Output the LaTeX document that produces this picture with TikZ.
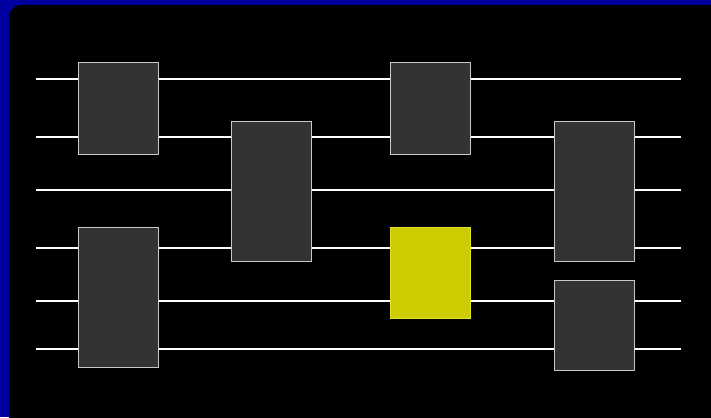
\documentclass[tikz,border=0pt]{standalone}
\definecolor{frameblue}{RGB}{0,0,158}
\definecolor{gatefill}{RGB}{51,51,51}
\definecolor{gateedge}{RGB}{200,200,200}
\definecolor{hifill}{RGB}{204,204,0}
\definecolor{hiedge}{RGB}{225,225,40}
\begin{document}
\begin{tikzpicture}[x=1pt,y=-1pt,
  wire/.style={draw=white,line width=2pt},
  gate/.style={fill=gatefill,draw=gateedge,line width=1pt},
  hgate/.style={fill=hifill,draw=hiedge,line width=1pt}]
\useasboundingbox (0,0) rectangle (711,417);
\fill[frameblue] (0,0) rectangle (711,417);
\begin{scope}
\clip (0,0) rectangle (711,417);
\fill[black,rounded corners=12pt] (9,5) rectangle (730,430);
\end{scope}
% wires
\foreach \i/\y in {0/79,1/137,2/190,3/248,4/301,5/349}{
  \coordinate (w\i s) at (36,\y);
  \coordinate (w\i e) at (681,\y);
  \draw[wire] (w\i s) -- (w\i e);
}
% gates
\filldraw[gate] (78,63) rectangle (158,154) coordinate (gA);
\filldraw[gate] (78,227) rectangle (158,367) coordinate (gB);
\filldraw[gate] (231,121) rectangle (311,261) coordinate (gC);
\filldraw[gate] (390,63) rectangle (470,154) coordinate (gD);
\filldraw[hgate] (390,227) rectangle (470,318) coordinate (gE);
\filldraw[gate] (554,121) rectangle (634,261) coordinate (gF);
\filldraw[gate] (554,280) rectangle (634,370) coordinate (gG);
\end{tikzpicture}
\end{document}
